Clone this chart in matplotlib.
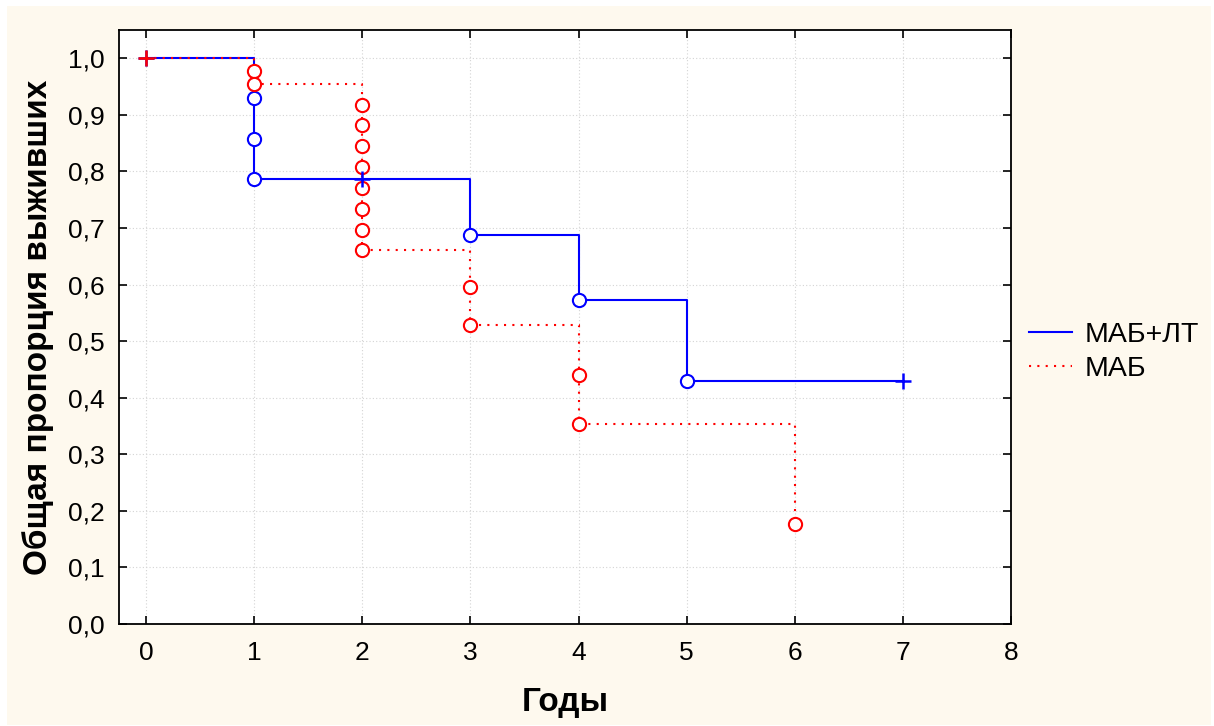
import matplotlib
matplotlib.use("Agg")
import matplotlib.pyplot as plt
from matplotlib.patches import Rectangle
from matplotlib.ticker import FuncFormatter

plt.rcParams['font.family'] = ['Liberation Sans', 'DejaVu Sans']

# MАБ+ЛТ (blue) step curve
blue_t = [0, 1, 3, 4, 5, 7]
blue_s = [1.0, 0.786, 0.688, 0.573, 0.430, 0.430]
blue_event_t = [1, 1, 1, 3, 4, 5]
blue_event_s = [0.929, 0.857, 0.786, 0.688, 0.573, 0.430]
blue_cens_t = [0, 2, 7]
blue_cens_s = [1.0, 0.786, 0.430]

# МАБ (red) step curve
red_t = [0, 1, 2, 3, 4, 6]
red_s = [1.0, 0.955, 0.661, 0.529, 0.353, 0.176]
red_event_t = [1, 1, 2, 2, 2, 2, 2, 2, 2, 2, 3, 3, 4, 4, 6]
red_event_s = [0.977, 0.955, 0.918, 0.882, 0.845, 0.808, 0.771, 0.734,
               0.697, 0.661, 0.595, 0.529, 0.441, 0.353, 0.176]
red_cens_t = [0]
red_cens_s = [1.0]

labels = ['МАБ+ЛТ', 'МАБ']
xticks = [0, 1, 2, 3, 4, 5, 6, 7, 8]
yticks = [0.0, 0.1, 0.2, 0.3, 0.4, 0.5, 0.6, 0.7, 0.8, 0.9, 1.0]

W, H = 1214, 726
fig = plt.figure(figsize=(W / 100, H / 100), dpi=100, facecolor='white')
fig.patches.append(Rectangle((7 / W, 1 / H), (1211 - 7) / W, (720 - 1) / H,
                             transform=fig.transFigure, facecolor='#FEF9EE',
                             edgecolor='none', zorder=-10))

ax = fig.add_axes([119 / W, (H - 624) / H, (1011 - 119) / W, (624 - 30) / H])
ax.set_facecolor('white')

blue = '#0000FF'
red = '#FF0000'

ax.plot(blue_t, blue_s, drawstyle='steps-post', color=blue, lw=1.5,
        label=labels[0], zorder=3)
ax.plot(red_t, red_s, drawstyle='steps-post', color=red, lw=1.5,
        linestyle=(0, (1, 3)), label=labels[1], zorder=4)

ax.plot(blue_event_t, blue_event_s, 'o', ms=9.5, mfc='white', mec=blue,
        mew=1.5, linestyle='none', zorder=5)
ax.plot(red_event_t, red_event_s, 'o', ms=9.5, mfc='white', mec=red,
        mew=1.5, linestyle='none', zorder=6)
ax.plot(blue_cens_t, blue_cens_s, '+', ms=11, mec=blue, mew=1.8,
        linestyle='none', zorder=6)
ax.plot(red_cens_t, red_cens_s, '+', ms=11, mec=red, mew=1.8,
        linestyle='none', zorder=7)

ax.set_xlim(-0.25, 8)
ax.set_ylim(0, 1.05)
ax.set_xticks(xticks)
ax.set_yticks(yticks)
ax.yaxis.set_major_formatter(FuncFormatter(lambda v, p: f'{v:.1f}'.replace('.', ',')))
ax.tick_params(direction='in', length=6, width=1.2, top=True, right=True,
               labelsize=19, colors='black')
ax.tick_params(axis='y', pad=10)
ax.tick_params(axis='x', pad=12)
ax.grid(True, color='#d4d4d4', linestyle=(0, (1, 2)), lw=0.8)
ax.set_axisbelow(True)
for sp in ax.spines.values():
    sp.set_linewidth(1.3)
    sp.set_color('black')

ax.set_xlabel('Годы', fontsize=24, fontweight='bold', labelpad=16)
ax.set_ylabel('Общая пропорция выживших', fontsize=24, fontweight='bold', labelpad=10)

leg = fig.legend(loc='center left', bbox_to_anchor=(1018 / W, (H - 352) / H),
                 frameon=False, fontsize=20.5, handlelength=1.5,
                 handletextpad=0.45, labelspacing=0.25, borderaxespad=0)

fig.savefig('out.png', dpi=100, facecolor=fig.get_facecolor())
